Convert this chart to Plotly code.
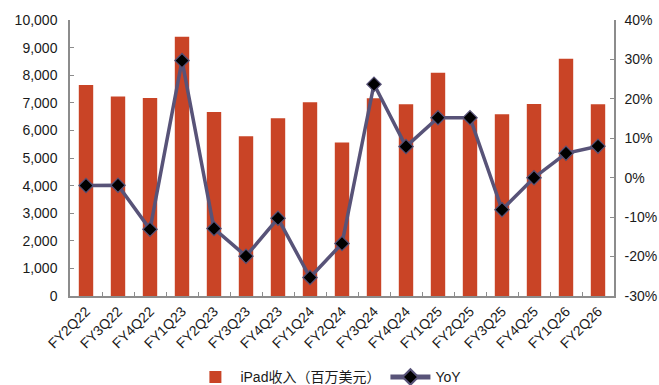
import plotly.graph_objects as go

quarters = ["FY2Q22", "FY3Q22", "FY4Q22", "FY1Q23", "FY2Q23", "FY3Q23", "FY4Q23", "FY1Q24",
            "FY2Q24", "FY3Q24", "FY4Q24", "FY1Q25", "FY2Q25", "FY3Q25", "FY4Q25", "FY1Q26", "FY2Q26"]
ipad_revenue = [7646, 7224, 7174, 9396, 6670, 5791, 6443, 7023,
                5559, 7162, 6950, 8088, 6402, 6581, 6952, 8600, 6950]
yoy = [-2.0, -1.9, -13.1, 29.7, -12.9, -19.9, -10.3, -25.3,
       -16.7, 23.7, 7.9, 15.2, 15.2, -8.1, 0.0, 6.2, 8.0]

left_ticks = [0, 1000, 2000, 3000, 4000, 5000, 6000, 7000, 8000, 9000, 10000]
left_labels = ["0", "1,000", "2,000", "3,000", "4,000", "5,000", "6,000", "7,000", "8,000", "9,000", "10,000"]
right_ticks = [-30, -20, -10, 0, 10, 20, 30, 40]
right_labels = ["-30%", "-20%", "-10%", "0%", "10%", "20%", "30%", "40%"]

bar_color = "#C94426"
line_color = "#585378"
axis_color = "#8C8C8C"
font_family = "Liberation Sans, Arial, Noto Sans CJK SC, sans-serif"

fig = go.Figure()
fig.add_trace(go.Bar(
    x=quarters, y=ipad_revenue, name="iPad收入（百万美元）",
    marker=dict(color=bar_color, line=dict(width=0)),
    yaxis="y",
))
fig.add_trace(go.Scatter(
    x=quarters, y=yoy, name="YoY", mode="lines+markers",
    line=dict(color=line_color, width=3.5),
    marker=dict(symbol="diamond", size=11, color="black", line=dict(color=line_color, width=1.2)),
    yaxis="y2", cliponaxis=False,
))

axis_common = dict(showline=True, linecolor=axis_color, linewidth=1.5,
                   ticks="inside", ticklen=4, tickcolor=axis_color, tickwidth=1.2,
                   showgrid=False, zeroline=False, automargin=False,
                   tickfont=dict(size=14, color="#1a1a1a"))

fig.update_layout(
    width=659, height=385,
    margin=dict(l=70, r=45, t=20, b=89, autoexpand=False),
    paper_bgcolor="white", plot_bgcolor="white",
    font=dict(family=font_family, size=14, color="#1a1a1a"),
    bargap=0.55,
    showlegend=True,
    legend=dict(orientation="h", x=0.475, xanchor="center", y=-0.295, yanchor="middle",
                font=dict(family="Liberation Sans, Noto Sans CJK SC, sans-serif", size=14),
                itemsizing="constant", itemwidth=40, tracegroupgap=0),
    xaxis=dict(type="category", tickangle=-45, tickson="boundaries",
               range=[-0.5, len(quarters) - 0.5], **axis_common),
    yaxis=dict(range=[0, 10000], tickvals=left_ticks, ticktext=left_labels,
               ticklabelstandoff=8, **axis_common),
    yaxis2=dict(range=[-30, 40], tickvals=right_ticks, ticktext=right_labels,
                overlaying="y", side="right", ticklabelstandoff=6, **axis_common),
)

fig.write_html("out.html")
